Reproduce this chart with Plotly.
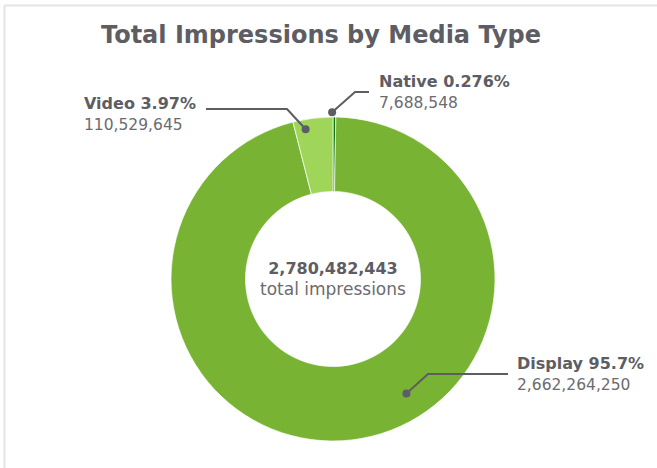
import math
import plotly.graph_objects as go

# Data
media_types = ["Native", "Display", "Video"]
impressions = [7688548, 2662264250, 110529645]
pct_labels = ["0.276%", "95.7%", "3.97%"]
colors = ["#0b7a12", "#78b334", "#9fd65a"]
title_text = "Total Impressions by Media Type"
center_sub = "total impressions"

W, H = 657, 468
CX, CY, R = 333, 279, 162   # donut centre / radius in pixels
HOLE = 0.54

def px(x):
    return x / W

def py(y):
    return 1 - y / H

total = sum(impressions)

fig = go.Figure(go.Pie(
    labels=media_types,
    values=impressions,
    sort=False,
    direction="clockwise",
    rotation=0,
    hole=HOLE,
    marker=dict(colors=colors, line=dict(color="white", width=0.7)),
    textinfo="none",
    hoverinfo="label+value+percent",
    domain=dict(x=[px(CX - R), px(CX + R)], y=[py(CY + R), py(CY - R)]),
    showlegend=False,
))

FONT = "DejaVu Sans"
DARK = "#5d5d63"
LIGHT = "#6b6b70"

# label layout: dot radius factor, angle offset (deg), elbow, line end x, text x, text centre y
label_cfg = {
    "Native": dict(rf=1.03, off=-0.8, elbow=(355, 92), end=369, tx=377, ty=92),
    "Display": dict(rf=0.84, off=-26.0, elbow=(428, 374), end=508, tx=515, ty=374),
    "Video": dict(rf=0.94, off=-3.2, elbow=(287, 109), end=206, tx=82, ty=114),
}

shapes = []
annotations = []
cum = 0.0
for name, val, pct in zip(media_types, impressions, pct_labels):
    frac = val / total
    mid = (cum + frac / 2) * 360.0
    cum += frac
    cfg = label_cfg[name]
    ang = math.radians(mid + cfg["off"])
    r = R * cfg["rf"]
    dx_, dy_ = CX + r * math.sin(ang), CY - r * math.cos(ang)
    ex, ey = cfg["elbow"]
    shapes.append(dict(type="path", xref="paper", yref="paper",
                       path=f"M {px(dx_)},{py(dy_)} L {px(ex)},{py(ey)} L {px(cfg['end'])},{py(ey)}",
                       line=dict(color=DARK, width=2)))
    shapes.append(dict(type="circle", xref="paper", yref="paper",
                       x0=px(dx_ - 4), x1=px(dx_ + 4), y0=py(dy_ + 4), y1=py(dy_ - 4),
                       fillcolor=DARK, line=dict(width=0)))
    annotations.append(dict(x=px(cfg["tx"]), y=py(cfg["ty"]), xref="paper", yref="paper",
                            xanchor="left", yanchor="middle", align="left", showarrow=False,
                            text=(f"<b>{name} {pct}</b><br>"
                                  f"<span style='color:{LIGHT};font-size:15.5px'>{val:,}</span>"),
                            font=dict(family=FONT, size=16, color=DARK)))

# centre text
annotations.append(dict(x=px(CX), y=py(279), xref="paper", yref="paper",
                        xanchor="center", yanchor="middle", showarrow=False, align="center",
                        text=(f"<b>{total:,}</b><br>"
                              f"<span style='color:{LIGHT};font-size:17px'>{center_sub}</span>"),
                        font=dict(family=FONT, size=16, color=DARK)))

# card border (top and left edges)
shapes.append(dict(type="line", xref="paper", yref="paper", x0=px(4.5), x1=1, y0=py(5.5), y1=py(5.5),
                   line=dict(color="#e3e3ea", width=2)))
shapes.append(dict(type="line", xref="paper", yref="paper", x0=px(4.5), x1=px(4.5), y0=0, y1=py(5.5),
                   line=dict(color="#e3e3ea", width=2)))

fig.update_layout(
    width=W, height=H,
    margin=dict(l=0, r=0, t=0, b=0),
    paper_bgcolor="white",
    plot_bgcolor="white",
    title=dict(text=f"<b>{title_text}</b>", x=px(321), xanchor="center", y=py(35), yanchor="middle",
               font=dict(family=FONT, size=24, color=DARK)),
    shapes=shapes,
    annotations=annotations,
)

fig.write_html("out.html")
